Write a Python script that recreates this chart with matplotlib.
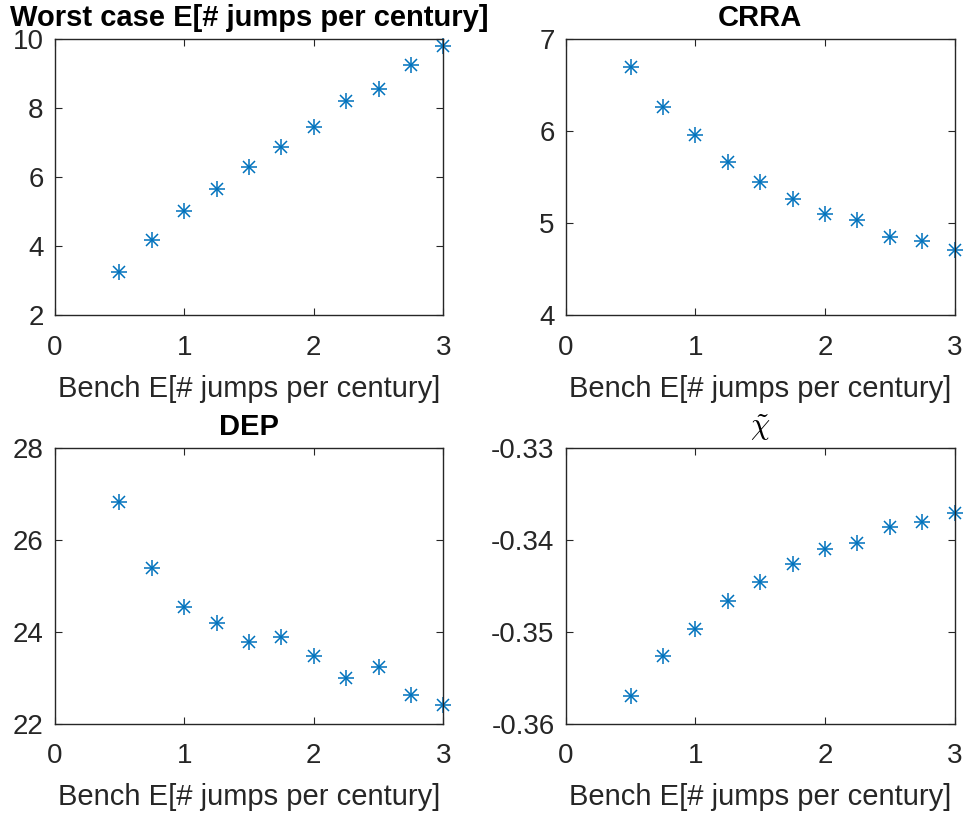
import matplotlib
matplotlib.use("Agg")
import matplotlib.pyplot as plt

plt.rcParams['font.family'] = ['Liberation Sans', 'DejaVu Sans']
plt.rcParams['mathtext.fontset'] = 'cm'

bench = [0.5, 0.75, 1.0, 1.25, 1.5, 1.75, 2.0, 2.25, 2.5, 2.75, 3.0]
worst_case = [3.25, 4.18, 5.01, 5.65, 6.30, 6.86, 7.45, 8.21, 8.56, 9.26, 9.79]
crra = [6.70, 6.26, 5.96, 5.66, 5.45, 5.26, 5.10, 5.04, 4.85, 4.81, 4.71]
dep = [26.82, 25.38, 24.54, 24.20, 23.77, 23.88, 23.48, 22.99, 23.24, 22.62, 22.41]
chi = [-0.3570, -0.3526, -0.3497, -0.3467, -0.3446, -0.3426, -0.3410, -0.3404,
       -0.3386, -0.3381, -0.3371]

titles = ['Worst case E[# jumps per century]', 'CRRA', 'DEP', r'$\tilde{\chi}$']
ylims = [(2, 10), (4, 7), (22, 28), (-0.36, -0.33)]
yticks = [[2, 4, 6, 8, 10], [4, 5, 6, 7], [22, 24, 26, 28], [-0.36, -0.35, -0.34, -0.33]]
ylabels_fmt = [None, None, None, ['-0.36', '-0.35', '-0.34', '-0.33']]
series = [worst_case, crra, dep, chi]

W, H = 964, 814
# axes boxes in pixels: left, top, right, bottom
boxes = [(54.7, 39, 443.3, 315.3), (565.7, 39, 954.5, 315.3),
         (54.7, 447.7, 443.3, 723.7), (565.7, 447.7, 954.5, 723.7)]

fig = plt.figure(figsize=(W / 100, H / 100), dpi=100)
dark = '#262626'
blue = '#0072BD'

for i in range(4):
    l, t, r, b = boxes[i]
    ax = fig.add_axes([l / W, 1 - b / H, (r - l) / W, (b - t) / H])
    # matlab-style asterisk: a plus with a smaller x on top
    ax.plot(bench, series[i], linestyle='none', marker='+', markersize=12,
            mew=1.1, color=blue, clip_on=False)
    ax.plot(bench, series[i], linestyle='none', marker='x', markersize=9,
            mew=1.1, color=blue, clip_on=False)
    ax.set_xlim(0, 3)
    ax.set_ylim(*ylims[i])
    ax.set_xticks([0, 1, 2, 3])
    ax.set_yticks(yticks[i])
    if ylabels_fmt[i]:
        ax.set_yticklabels(ylabels_fmt[i])
    ax.tick_params(direction='in', length=5, width=0.8, colors=dark,
                   labelsize=20, top=True, right=True)
    ax.tick_params(axis='x', pad=14)
    ax.tick_params(axis='y', pad=8)
    for s in ax.spines.values():
        s.set_color(dark)
        s.set_linewidth(1.0)
    ax.set_xlabel('Bench E[# jumps per century]', fontsize=21, color=dark, labelpad=10)
    if i == 3:
        ax.set_title(titles[i], fontsize=22, pad=9)
    else:
        ax.set_title(titles[i], fontsize=21, fontweight='bold', pad=9)

fig.savefig('out.png', dpi=100)
